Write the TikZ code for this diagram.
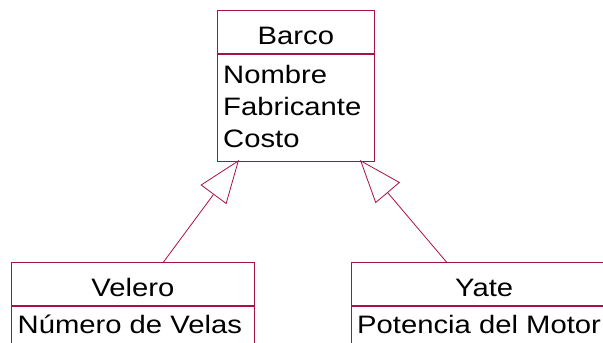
\documentclass[tikz,border=0pt]{standalone}
\usepackage{fontspec}
\setmainfont{Liberation Sans}[FakeStretch=1.16]
\usetikzlibrary{arrows.meta}
\definecolor{umlred}{RGB}{168,16,72}

\begin{document}
\begin{tikzpicture}[x=1pt, y=-1pt,
    font=\fontsize{25.2}{32}\selectfont,
    classhead/.style={draw=umlred, line width=1pt, anchor=north west,
      inner sep=0pt, minimum height=42.5pt, text height=25pt, text depth=0pt},
    classbody/.style={draw=umlred, line width=1pt, anchor=north west,
      inner sep=0pt},
    attr/.style={anchor=base west, inner sep=0pt},
    inherit/.style={draw=umlred, line width=0.8pt,
      -{Triangle[open, length=43pt, width=32pt, fill=white]}}]

  % === Frame ===
  \clip (0, 0) rectangle (603, 343);

  % === Class Barco ===
  \node[classhead, minimum width=157.3pt] (barco) at (216.7, 10) {Barco};
  \node[classbody, minimum width=157.3pt, minimum height=107.5pt]
    (barcoAttr) at (barco.south west) {};
  \foreach \t [count=\i] in {Nombre, Fabricante, Costo}
    \node[attr] (barcoA\i) at (223, 51.2+32.2*\i) {\t};

  % === Class Velero ===
  \node[classhead, minimum width=243.3pt] (velero) at (10.7, 262.3) {Velero};
  \node[classbody, minimum width=243.3pt, minimum height=60pt]
    (veleroAttr) at (velero.south west) {};
  \node[attr] (veleroA1) at (17.5, 333) {Número de Velas};

  % === Class Yate ===
  \node[classhead, minimum width=266pt] (yate) at (350.7, 262.3) {Yate};
  \node[classbody, minimum width=266pt, minimum height=60pt]
    (yateAttr) at (yate.south west) {};
  \node[attr] (yateA1) at (357, 333) {Potencia del Motor};

  % === Generalisation arrows ===
  \coordinate (veleroTop) at (163.3, 262.3);
  \coordinate (yateTop) at (446.7, 262.3);
  \coordinate (barcoLeft) at (239, 160);
  \coordinate (barcoRight) at (360, 160);
  \draw[inherit] (veleroTop) -- (barcoLeft);
  \draw[inherit] (yateTop) -- (barcoRight);

\end{tikzpicture}
\end{document}
